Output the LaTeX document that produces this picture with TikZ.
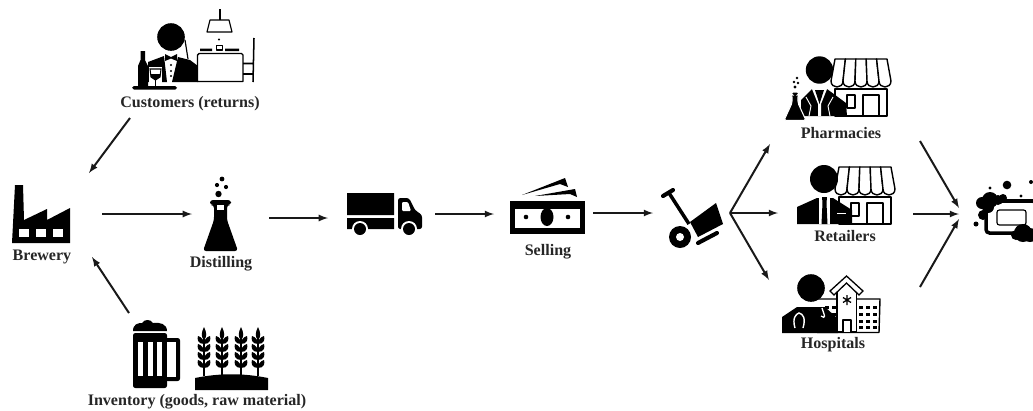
\documentclass[tikz,border=0pt]{standalone}
\usepackage{fontspec}
\setmainfont{Liberation Serif}

\newcommand*{\shopfront}{
	\draw[outl] (4,30) rectangle (56,57);
	\draw[outl] (16,36) rectangle (24,49);
	\draw[outl] (32,36) rectangle (48,57);
	\foreach \k in {0,...,4} {
		\draw[outl] (\k*12,22) .. controls (\k*12,30) and (\k*12+12,30) .. (\k*12+12,22) -- (\k*10.4+14.4,0) -- (\k*10.4+4,0) -- cycle;
	}
}

\begin{document}
\begin{tikzpicture}
[
	x=0.03cm,
	y=-0.03cm,
	flow/.style={-latex,line width=1.7pt,black!90},
	lbl/.style={font=\bfseries\fontsize{13.7}{15}\selectfont,text=black!85,inner sep=0pt},
	ink/.style={fill=black,draw=none},
	paper/.style={fill=white,draw=none},
	outl/.style={draw=black,line width=1.2pt,fill=white,line join=round}
]
	\useasboundingbox (0,0) rectangle (1033,410);

	% labels
	\node[lbl] (customers) at (190,103.5) {Customers (returns)};
	\node[lbl] (brewery) at (42,257) {Brewery};
	\node[lbl] (distilling) at (221,263.5) {Distilling};
	\node[lbl] (inventory) at (197,401.5) {Inventory (goods, raw material)};
	\node[lbl] (selling) at (548,252) {Selling};
	\node[lbl] (pharmacies) at (841,133) {Pharmacies};
	\node[lbl] (retailers) at (845,236) {Retailers};
	\node[lbl] (hospitals) at (833,344.5) {Hospitals};

	% waiter
	\fill[ink] (171,37) circle (13.8);
	\draw[line width=1pt] (185,40) -- (188,59);
	\fill[ink] (148,62) -- (164,56) -- (167,82) -- (148,82) -- cycle;
	\fill[ink] (178,57) -- (190,60) -- (198,66) -- (198,82) -- (172,82) -- cycle;
	\fill[ink] (165,54) -- (171,57) -- (177,54) -- (177,61) -- (171,58.5) -- (165,61) -- cycle;
	\foreach \y in {65,71,76} \fill[ink] (171,\y) circle (1.2);
	\fill[ink] (140.5,51) -- (145,51) -- (145,60) -- (148,66) -- (148,86) -- (138,86) -- (138,66) -- (140.5,60) -- cycle;
	\fill[paper] (149,67) rectangle (162,84);
	\draw[line width=0.9pt,fill=white] (150,69) -- (161,69) -- (160,77) -- (155.5,80) -- (151,77) -- cycle;
	\fill[ink] (150.5,74) -- (160.5,74) -- (160,77) -- (155.5,80) -- (151,77) -- cycle;
	\draw[line width=1pt] (155.5,80) -- (155.5,86);
	\fill[ink,rounded corners=1.5] (132,86) rectangle (177,89.5);
	\draw[outl] (197.5,81.5) -- (197.5,55) -- (199,53.5) -- (241.5,53.5) -- (243,55) -- (243,81.5) -- cycle;
	\draw[line width=1pt] (220,9) -- (220,20);
	\draw[outl,line width=1pt] (210,20) -- (229,20) -- (232,32) -- (207,32) -- cycle;
	\fill[ink] (200,48.5) rectangle (212,51) (225,48.5) rectangle (239,51);
	\draw[outl,line width=1pt] (216.5,45.5) rectangle (222.5,50);
	\fill[ink] (219,39.5) circle (1.2);
	\draw[line width=1.3pt] (254,38) -- (253,82) (243,63.5) -- (253,63.5) (243,74) -- (253,74);

	% factory
	\fill[ink] (12,243) -- (15,185) -- (23,185) -- (24,220) -- (47,209) -- (47,220) -- (70,208) -- (70,243) -- cycle;
	\foreach \x in {19,36,53} \fill[paper] (\x,229) rectangle +(10,8);

	% flask
	\foreach \x/\y/\r in {222/179/2.4,217/185/2.1,226/187/2.1,218.5/194/3.2} \fill[ink] (\x,\y) circle (\r);
	\fill[ink,rounded corners=2.5] (210,200) -- (231,200) -- (231,205) -- (227,205) -- (227,220) -- (238,251) -- (203,251) -- (214,220) -- (214,205) -- (210,205) -- cycle;
	\fill[paper] (217,205) rectangle (224,210);

	% mug
	\fill[ink] (133,331) .. controls (133,324) and (138,323) .. (142,323) .. controls (144,319) and (151,319) .. (153,323) .. controls (160,322) and (167,324) .. (167,331) -- cycle;
	\fill[ink,rounded corners=2] (133,333) rectangle (167,388);
	\fill[ink,rounded corners=2] (165,338) rectangle (180,381);
	\fill[paper] (167,342) rectangle (176,377);
	\foreach \x in {138,148,157} \fill[paper] (\x,342) rectangle +(5,34);

	% wheat
	\fill[ink] (195,390) -- (195,378) .. controls (220,373) and (243,373) .. (268,378) -- (268,390) -- cycle;
	\foreach \x in {204,222,241,258} {
		\draw[line width=1.2pt] (\x,330) -- (\x,376);
		\fill[ink] (\x,327) .. controls (\x+3,333) and (\x+3,337) .. (\x,340) .. controls (\x-3,337) and (\x-3,333) .. (\x,327) -- cycle;
		\foreach \y in {337,345,353,361} {
			\fill[ink] (\x,\y+7) .. controls (\x-6.5,\y+7) and (\x-7,\y+2) .. (\x-6,\y-1) .. controls (\x-2.5,\y) and (\x,\y+3) .. (\x,\y+7) -- cycle;
			\fill[ink] (\x,\y+7) .. controls (\x+6.5,\y+7) and (\x+7,\y+2) .. (\x+6,\y-1) .. controls (\x+2.5,\y) and (\x,\y+3) .. (\x,\y+7) -- cycle;
		}
	}

	% truck
	\fill[ink] (347,193) rectangle (394,215) (347,218) rectangle (394,229);
	\fill[ink,rounded corners=2] (398,198) -- (409,198) -- (415,210) -- (422,215) -- (422,229) -- (398,229) -- cycle;
	\fill[paper,rounded corners=1] (402,202) -- (408,202) -- (411,211) -- (402,211) -- cycle;
	\foreach \x in {360,409} {
		\fill[paper] (\x,229) circle (8);
		\fill[ink] (\x,229) circle (6);
	}

	% money
	\fill[ink] (510,201) rectangle (585,234);
	\fill[paper] (515,209) rectangle (580,228);
	\fill[ink] (547,217) ellipse (6.5 and 9);
	\fill[ink] (526,217) circle (2.3) (568,217) circle (2.3);
	\fill[ink] (522,195) -- (565,178) -- (568,187) -- (560,184) -- cycle;
	\fill[ink] (535,196) -- (575,189) -- (577,197) -- (570,194) -- cycle;

	% trolley
	\draw[line width=3.5pt,line cap=round] (663,196) -- (673,190);
	\draw[line width=3pt] (669,193) -- (689,224);
	\fill[ink] (680,237) circle (11);
	\fill[paper] (680,237) circle (4);
	\fill[ink] (690,222) -- (716,203) -- (723,224) -- (698,237) -- cycle;
	\draw[line width=3.5pt,line cap=round] (698,243) -- (717,233);

	% pharmacist
	\begin{scope}[shift={(831,59)}]
		\shopfront
	\end{scope}
	\fill[ink] (819.5,70) circle (13.7);
	\fill[ink] (801,116) -- (801,100) -- (812,89) -- (827,89) -- (846,103) -- (847,116) -- cycle;
	\fill[paper] (812,89) -- (827,89) -- (821,104) -- (821,116) -- (818,116) -- (818,104) -- cycle;
	\fill[ink] (815,90) -- (824,90) -- (819.5,104) -- cycle;
	\draw[white,line width=0.8pt] (806,97) -- (811,106) -- (809,116) (833,97) -- (828,106) -- (830,116);
	\fill[ink] (797,78) circle (1.3) (794,82) circle (1.3) (798,83) circle (1.3) (795,87) circle (1.7);
	\draw[ink,draw=white,line width=0.9pt,rounded corners=1.5] (791,92) -- (799,92) -- (799,95) -- (798,95) -- (798,103) -- (806,120.5) -- (784,120.5) -- (792,103) -- (792,95) -- (791,95) -- cycle;

	% retailer
	\begin{scope}[shift={(835,167)}]
		\shopfront
	\end{scope}
	\fill[ink] (824,179) circle (14);
	\fill[ink] (797,224) -- (797,207) -- (817,198) -- (833,198) -- (852,210) -- (852,224) -- cycle;
	\fill[paper] (819,196) rectangle (830,224);
	\fill[ink] (822,197) -- (827,197) -- (826.5,203) -- (827.5,224) -- (821.5,224) -- (822.5,203) -- cycle;
	\fill[paper] (837,212.5) rectangle (846,214);

	% doctor
	\draw[outl] (817,299) -- (880,299) -- (879,332.5) -- (817,332.5);
	\draw[draw=black,fill=white,line width=1.2pt] (837,292) -- (837,332) -- (856.5,332) -- (856.5,292);
	\fill[paper] (838,293) rectangle (855.5,302);
	\draw[line width=1.1pt,line join=miter,fill=white] (830,291) -- (846.5,276) -- (863,291) -- (859,295) -- (846.5,283) -- (834,295) -- cycle;
	\draw[outl] (843,320) rectangle (851,332.5);
	\draw[line width=1.1pt] (847,295) -- (847,305) (843,297.5) -- (851,302.5) (843,302.5) -- (851,297.5);
	\foreach \x in {859,866,873} {
		\foreach \y in {306,313,320,326} \fill[ink] (\x,\y) rectangle +(3.5,3);
	}
	\foreach \x in {825,832} {
		\foreach \y in {306,313} \fill[ink] (\x,\y) rectangle +(3.5,3);
	}
	\fill[ink] (811,288) circle (13.8);
	\fill[ink] (782,333) -- (782,317) -- (797,307) -- (825,307) -- (837,318) -- (838,333) -- cycle;
	\draw[white,line width=1.2pt] (795,328) .. controls (792,318) and (796,314) .. (799,313) .. controls (803,314) and (806,318) .. (803,328);
	\draw[white,line width=1.1pt] (822,308) -- (824,314) .. controls (826,318) and (822,318) .. (821,316);

	% soap
	\foreach \x/\y/\r in {1007/185/4.3,990/188/1.7,1031/182/2,1021/196/1.7,976/224/2.5} \fill[ink] (\x,\y) circle (\r);
	\draw[line width=3pt,rounded corners=3] (986,201) rectangle (1036,233);
	\draw[line width=1pt,rounded corners=2] (997,210) rectangle (1026,225);
	\foreach \x/\y/\r in {990/200/8,982/203/6,998/200/5,1003/198/4,983/215/5,988/207/6,1023/233/9,1030/235/7,1016/235/5} \fill[ink] (\x,\y) circle (\r);

	% arrows
	\coordinate (c0) at (130,118); \coordinate (c1) at (89,173);
	\draw[flow] (c0) -- (c1);
	\coordinate (i0) at (129,313); \coordinate (i1) at (92,257);
	\draw[flow] (i0) -- (i1);
	\coordinate (b0) at (102,214); \coordinate (b1) at (192,214);
	\draw[flow] (b0) -- (b1);
	\coordinate (d0) at (269,218); \coordinate (d1) at (328,218);
	\draw[flow] (d0) -- (d1);
	\coordinate (t0) at (435,214); \coordinate (t1) at (494,214);
	\draw[flow] (t0) -- (t1);
	\coordinate (s0) at (593,213); \coordinate (s1) at (653,213);
	\draw[flow] (s0) -- (s1);
	\coordinate (fork) at (730,213);
	\coordinate (p0) at (770,144); \coordinate (r0) at (778,213); \coordinate (h0) at (769,280);
	\draw[flow] (fork) -- (p0);
	\draw[flow] (fork) -- (r0);
	\draw[flow] (fork) -- (h0);
	\coordinate (p1) at (920,141); \coordinate (r1) at (913,214); \coordinate (h1) at (920,287);
	\coordinate (soapa) at (959,208); \coordinate (soapb) at (959,214); \coordinate (soapc) at (959,219);
	\draw[flow] (p1) -- (soapa);
	\draw[flow] (r1) -- (soapb);
	\draw[flow] (h1) -- (soapc);
\end{tikzpicture}
\end{document}
